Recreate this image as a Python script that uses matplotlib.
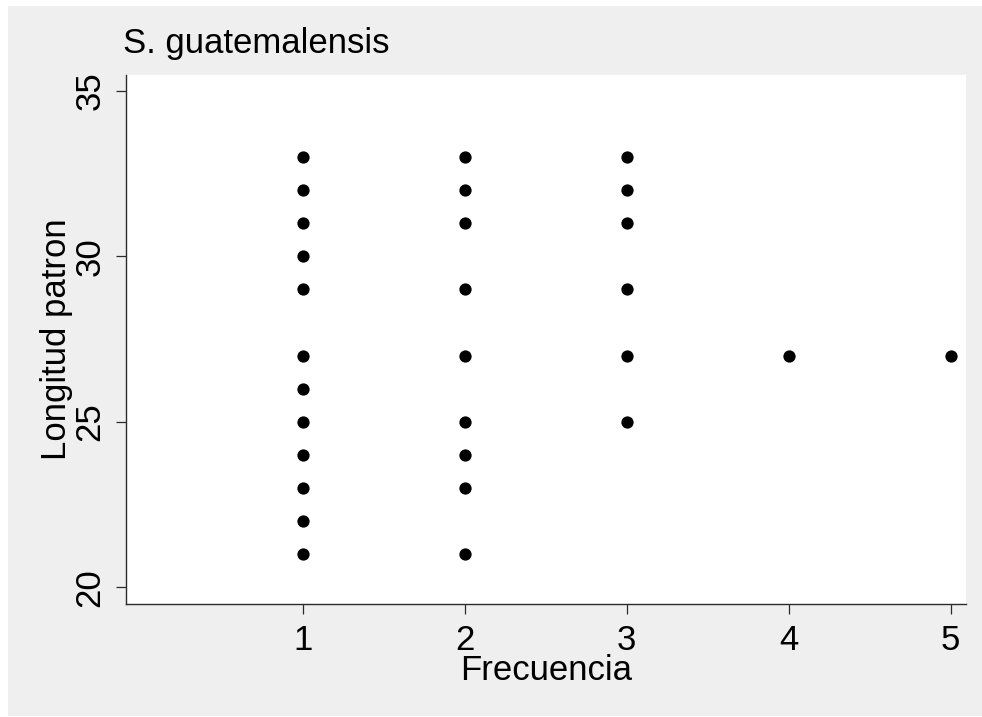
import matplotlib
matplotlib.use("Agg")
import matplotlib.pyplot as plt
from matplotlib.patches import Rectangle

# frecuencia de cada longitud patron
frec_1 = [33, 32, 31, 30, 29, 27, 26, 25, 24, 23, 22, 21]
frec_2 = [33, 32, 31, 29, 27, 25, 24, 23, 21]
frec_3 = [33, 32, 31, 29, 27, 25]
frec_4 = [27]
frec_5 = [27]
grupos = [frec_1, frec_2, frec_3, frec_4, frec_5]

x_ticks = [1, 2, 3, 4, 5]
y_ticks = [20, 25, 30, 35]

plt.rcParams['font.family'] = ['Liberation Sans', 'DejaVu Sans']

fig = plt.figure(figsize=(9.82, 7.17), dpi=100, facecolor='white')
# fondo gris de la grafica
fig.patches.append(Rectangle((8 / 982, 1 / 717), 1 - 8 / 982, 1 - 7 / 717,
                             transform=fig.transFigure, facecolor='#efefef',
                             edgecolor='none', zorder=-10))

ax = fig.add_axes([0.128, 0.1572, 0.8554, 0.7382])
ax.set_facecolor('white')

for f, vals in zip(x_ticks, grupos):
    ax.scatter([f] * len(vals), vals, s=78, color='black', linewidths=0, zorder=3)

ax.set_xlim(-0.093, 5.093)
ax.set_ylim(19.49, 35.47)
ax.set_xticks(x_ticks)
ax.set_yticks(y_ticks)

for side in ['top', 'right']:
    ax.spines[side].set_visible(False)
for side in ['left', 'bottom']:
    ax.spines[side].set_color('#2b2b2b')
    ax.spines[side].set_linewidth(1.0)

ax.tick_params(axis='both', direction='out', length=7, width=0.9, color='#2b2b2b',
               labelsize=25, pad=7)
for lbl in ax.get_yticklabels():
    lbl.set_rotation(90)
    lbl.set_va('center')

ax.set_xlabel('Frecuencia', fontsize=25, labelpad=-2)
ax.set_ylabel('Longitud patron', fontsize=25, labelpad=0)

fig.text(122.7 / 982, 1 - 53 / 717, 'S. guatemalensis', fontsize=25,
         ha='left', va='baseline')

fig.savefig('out.png', dpi=100, facecolor=fig.get_facecolor())
